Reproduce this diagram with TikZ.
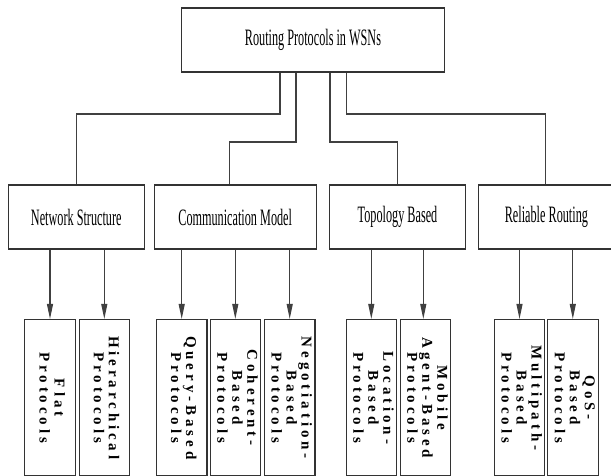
\documentclass[tikz,border=0pt]{standalone}
\usepackage{fontspec}
\setmainfont{Liberation Serif}
\newfontfamily\midfont{Liberation Serif}[FakeStretch=0.52]
\newfontfamily\leaffont{Liberation Serif}[LetterSpace=26]
\usetikzlibrary{arrows.meta}
\newcommand{\leaftext}[1]{\rotatebox{-90}{\begin{tabular}{@{}c@{}}#1\end{tabular}}}
\begin{document}
\begin{tikzpicture}[x=1pt,y=-1pt,
  box/.style={draw=black!80, line width=1.1pt, rectangle, inner sep=0pt, fill=white},
  midbox/.style={box, minimum height=64pt, font=\midfont\fontsize{23.5}{26}\selectfont},
  leaf/.style={box, minimum width=50.5pt, minimum height=156.5pt, font=\leaffont\bfseries\fontsize{15}{15}\selectfont},
  link/.style={draw=black!75, line width=1.1pt},
  arr/.style={link, -{Triangle[length=15pt,width=6pt]}}]
\useasboundingbox (0,0) rectangle (611,475);
\clip (0,0) rectangle (611,475);

\node[box, minimum width=263pt, minimum height=64pt, font=\midfont\fontsize{23.5}{26}\selectfont] (root) at (313,40) {Routing Protocols in WSNs};

\node[midbox, minimum width=136pt] (net) at (76.3,217) {Network Structure};
\node[midbox, minimum width=161.7pt] (comm) at (235.2,217) {Communication Model};
\node[midbox, minimum width=136.4pt] (topo) at (397.5,217) {Topology Based};
\node[midbox, minimum width=136pt] (rel) at (546.4,217) {Reliable Routing};

\node[leaf] (flat) at (50,397.75) {\leaftext{Flat\\Protocols}};
\node[leaf] (hier) at (104.3,397.75) {\leaftext{Hierarchical\\Protocols}};
\node[leaf] (query) at (181.7,397.75) {\leaftext{Query-Based\\Protocols}};
\node[leaf] (coh) at (235.3,397.75) {\leaftext{Coherent-\\Based\\Protocols}};
\node[leaf] (neg) at (289.7,397.75) {\leaftext{Negotiation-\\Based\\Protocols}};
\node[leaf] (loc) at (371.3,397.75) {\leaftext{Location-\\Based\\Protocols}};
\node[leaf] (mob) at (425.3,397.75) {\leaftext{Mobile\\Agent-Based\\Protocols}};
\node[leaf] (multi) at (519.5,397.75) {\leaftext{Multipath-\\Based\\Protocols}};
\node[leaf] (qos) at (572.8,397.75) {\leaftext{QoS-\\Based\\Protocols}};

\coordinate (j1) at (280,114);
\coordinate (j2) at (296,142);
\coordinate (j3) at (330,142);
\coordinate (j4) at (346.7,114);
\draw[link] (root.south -| j1) -- (j1) -| (net.north);
\draw[link] (root.south -| j2) -- (j2) -| ([xshift=-6pt]comm.north);
\draw[link] (root.south -| j3) -- (j3) -| (topo.north);
\draw[link] (root.south -| j4) -- (j4) -| ([xshift=-1pt]rel.north);

\draw[arr] (net.south -| flat.north) -- (flat.north);
\draw[arr] (net.south -| hier.north) -- (hier.north);
\draw[arr] (comm.south -| query.north) -- (query.north);
\draw[arr] (comm.south -| coh.north) -- (coh.north);
\draw[arr] (comm.south -| neg.north) -- (neg.north);
\draw[arr] (topo.south -| loc.north) -- (loc.north);
\draw[arr] ([xshift=-2pt]topo.south -| mob.north) -- ([xshift=-2pt]mob.north);
\draw[arr] (rel.south -| multi.north) -- (multi.north);
\draw[arr] (rel.south -| qos.north) -- (qos.north);
\end{tikzpicture}
\end{document}
